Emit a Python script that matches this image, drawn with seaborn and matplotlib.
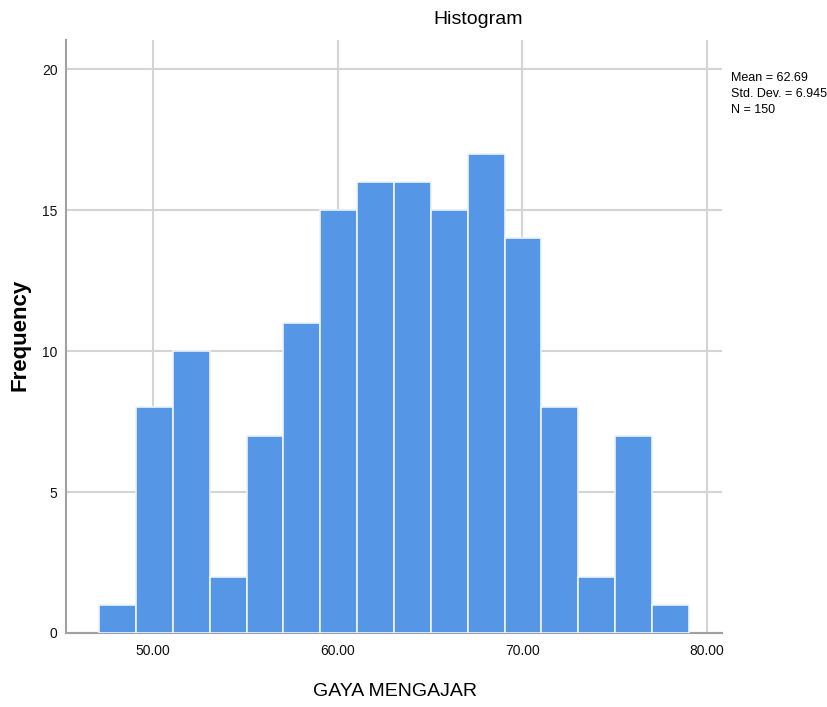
import numpy as np
import pandas as pd
import matplotlib
matplotlib.use("Agg")
import matplotlib.pyplot as plt
import seaborn as sns

bin_centers = [48, 50, 52, 54, 56, 58, 60, 62, 64, 66, 68, 70, 72, 74, 76, 78]
counts = [1, 8, 10, 2, 7, 11, 15, 16, 16, 15, 17, 14, 8, 2, 7, 1]
x_ticks = [50, 60, 70, 80]
x_tick_labels = ["50.00", "60.00", "70.00", "80.00"]
y_ticks = [0, 5, 10, 15, 20]
stats_text = "Mean = 62.69\nStd. Dev. = 6.945\nN = 150"

df = pd.DataFrame({"GAYA MENGAJAR": bin_centers, "count": counts})

sns.set_style("white")
plt.rcParams['font.family'] = ['Liberation Sans', 'DejaVu Sans']
plt.rcParams['text.color'] = 'black'

fig = plt.figure(figsize=(8.28, 7.07), dpi=100)
ax = fig.add_axes([66/828, 1 - 633/707, (722-66)/828, (633-40)/707])

edges = [float(e) for e in np.linspace(47.1, 79.0, 17)]
sns.histplot(data=df, x="GAYA MENGAJAR", weights="count", bins=edges, ax=ax,
             color="#5596E6", alpha=1.0, edgecolor="#EEF4FB", linewidth=1.2, zorder=3)

ax.set_xlim(45.3, 80.8)
ax.set_ylim(0, 21.03)
ax.set_xticks(x_ticks)
ax.set_xticklabels(x_tick_labels)
ax.set_yticks(y_ticks)
ax.grid(True, color="#D4D4D4", linewidth=1.5, zorder=0)
ax.set_axisbelow(True)
for s in ["top", "right"]:
    ax.spines[s].set_visible(False)
for s in ["left", "bottom"]:
    ax.spines[s].set_color("#A0A0A0")
    ax.spines[s].set_linewidth(1.5)
ax.tick_params(axis="both", length=0, labelsize=10, colors="#111111", pad=6)
ax.tick_params(axis="x", pad=8)

ax.set_xlabel("")
ax.set_ylabel("")
fig.text(395/828, 1 - 692/707, "GAYA MENGAJAR", ha="center", va="center", fontsize=14)
fig.text(20/828, 1 - 335/707, "Frequency", ha="center", va="center", rotation=90,
         fontsize=16, fontweight="bold")
fig.text(478/828, 1 - 20/707, "Histogram", ha="center", va="center", fontsize=14)
fig.text(731/828, 1 - 72/707, stats_text, ha="left", va="top", fontsize=9, linespacing=1.45)

fig.savefig("out.png", dpi=100)
